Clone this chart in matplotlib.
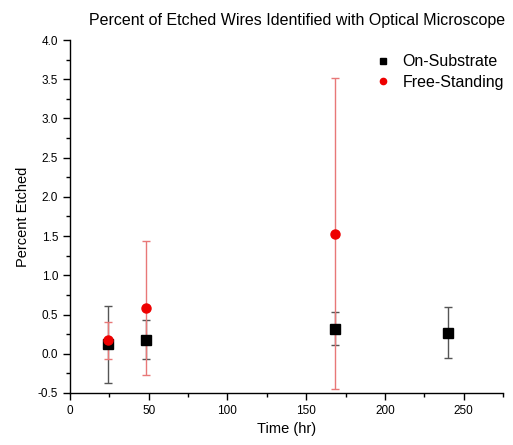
import matplotlib
matplotlib.use("Agg")
import matplotlib.pyplot as plt
from matplotlib.ticker import MultipleLocator

plt.rcParams['font.family'] = ['Liberation Sans', 'DejaVu Sans']

# Data
sub_time = [24, 48, 168, 240]
sub_pct = [0.12, 0.18, 0.32, 0.27]
sub_err = [0.49, 0.25, 0.21, 0.32]

fs_time = [24, 48, 168]
fs_pct = [0.17, 0.58, 1.53]
fs_err = [0.235, 0.855, 1.98]

fig = plt.figure(figsize=(5.13, 4.45), dpi=100)
ax = fig.add_axes([0.1365, 0.117, 0.844, 0.793])

ax.errorbar(sub_time, sub_pct, yerr=sub_err, fmt='none', ecolor='#555555',
            elinewidth=1.0, capsize=3, capthick=1.0, zorder=2)
ax.errorbar(fs_time, fs_pct, yerr=fs_err, fmt='none', ecolor='#e87878',
            elinewidth=1.0, capsize=3, capthick=1.0, zorder=2)
ax.plot(sub_time, sub_pct, 's', color='black', markersize=6.5, zorder=3)
ax.plot(fs_time, fs_pct, 'o', color='#ee0000', markersize=6.5, zorder=4)

# legend proxies
h1, = ax.plot([], [], 's', color='black', markersize=4.5, label='On-Substrate')
h2, = ax.plot([], [], 'o', color='#ee0000', markersize=4.5, label='Free-Standing')
ax.legend(handles=[h1, h2], loc='upper right', bbox_to_anchor=(1.035, 1.0),
          frameon=False, fontsize=11.5, handletextpad=0.6, labelspacing=0.35,
          handlelength=1.2)

ax.set_xlim(0, 275)
ax.set_ylim(-0.5, 4.0)
ax.xaxis.set_major_locator(MultipleLocator(50))
ax.xaxis.set_minor_locator(MultipleLocator(25))
ax.yaxis.set_major_locator(MultipleLocator(0.5))
ax.yaxis.set_minor_locator(MultipleLocator(0.25))
ax.yaxis.set_major_formatter(matplotlib.ticker.FormatStrFormatter('%.1f'))

for s in ['top', 'right']:
    ax.spines[s].set_visible(False)
for s in ['left', 'bottom']:
    ax.spines[s].set_linewidth(1.0)

ax.tick_params(which='major', direction='out', length=5, width=1, labelsize=8.5)
ax.tick_params(which='minor', direction='out', length=3, width=1)

ax.set_xlabel('Time (hr)', fontsize=10.5, labelpad=4)
ax.set_ylabel('Percent Etched', fontsize=10.5, labelpad=6)
fig.text(0.579, 0.955, 'Percent of Etched Wires Identified with Optical Microscope',
         ha='center', va='center', fontsize=11.5)

fig.savefig('out.png', dpi=100)
